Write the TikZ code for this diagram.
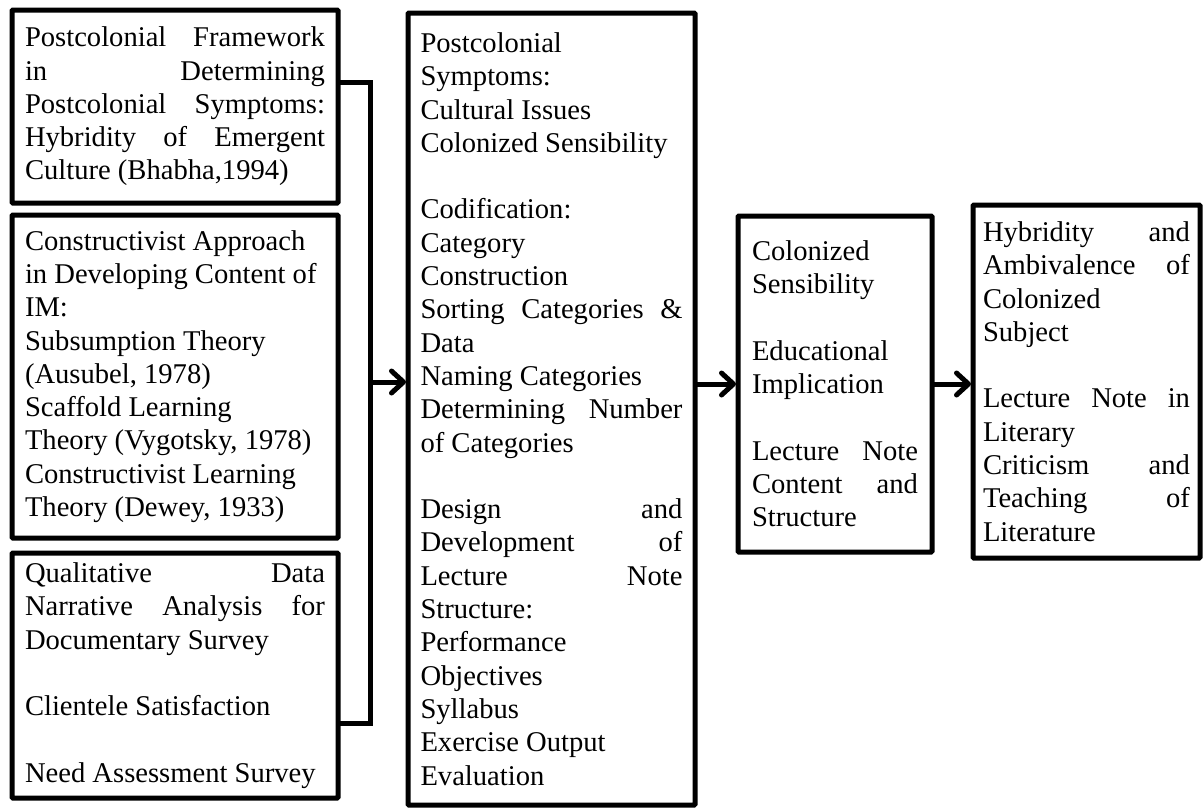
\documentclass[tikz,border=0pt]{standalone}
\usepackage{fontspec}
\setmainfont{Liberation Serif}
\usetikzlibrary{arrows.meta}
\hyphenpenalty=10000
\exhyphenpenalty=10000
\tolerance=10000
\hbadness=10000

\begin{document}
\begin{tikzpicture}[x=1pt,y=-1pt]
        \useasboundingbox (0,0) rectangle (1203,809);

        \begin{scope}[every node/.style={draw, line width=5pt, rounded corners=1pt,
            anchor=north west, outer sep=0pt, inner sep=0pt, align=justify,
            font=\fontsize{28.6}{33.3}\selectfont}]
          \node[minimum width=326pt, minimum height=193pt, text width=300pt] (frame) at (12,10)
            {Postcolonial Framework\linebreak in Determining\linebreak Postcolonial Symptoms:\linebreak
             Hybridity of Emergent\linebreak Culture (Bhabha,1994)};
          \node[minimum width=326pt, minimum height=323pt, text width=300pt] (theory) at (12,215)
            {Constructivist Approach\\ in Developing Content of\\ IM:\\ Subsumption Theory\\
             (Ausubel, 1978)\\ Scaffold Learning\\ Theory (Vygotsky, 1978)\\
             Constructivist Learning\\ Theory (Dewey, 1933)};
          \node[minimum width=326pt, minimum height=245pt, text width=300pt] (data) at (12,553)
            {Qualitative Data\linebreak Narrative Analysis for\linebreak Documentary Survey\\[\baselineskip]
             Clientele Satisfaction\\[\baselineskip] Need Assessment Survey};
          \node[minimum width=287pt, minimum height=792pt, text width=262pt] (codes) at (408,13)
            {Postcolonial\\ Symptoms:\\ Cultural Issues\\ Colonized Sensibility\\[\baselineskip]
             Codification:\\ Category\\ Construction\\ Sorting Categories \&\linebreak Data\\
             Naming Categories\\ Determining Number\linebreak of Categories\\[\baselineskip]
             Design and\linebreak Development of\linebreak Lecture Note\linebreak Structure:\\
             Performance\\ Objectives\\ Syllabus\\ Exercise Output\\ Evaluation};
          \node[minimum width=194pt, minimum height=336pt, text width=166pt] (sense) at (738,216)
            {Colonized\\ Sensibility\\[\baselineskip] Educational\\ Implication\\[\baselineskip]
             Lecture Note\linebreak Content and\linebreak Structure};
          \node[minimum width=227pt, minimum height=353pt, text width=207pt] (result) at (973,205)
            {Hybridity and\linebreak Ambivalence of\linebreak Colonized\\ Subject\\[\baselineskip]
             Lecture Note in\linebreak Literary\\ Criticism and\linebreak Teaching of\linebreak Literature};
        \end{scope}

        \coordinate (join) at (370,382);

        \begin{scope}[line width=5pt]
          \draw ([yshift=-72pt]frame.north east) -| (join) |- ([yshift=75pt]data.south east);

          \begin{scope}[every edge/.style={draw, shorten >=2pt,
              -{Straight Barb[length=12pt,width=22pt,round]}}]
            \path (join) edge (join -| codes.west);
            \path (codes.east |- sense.west) edge (sense.west);
            \path (sense.east) edge (sense.east -| result.west);
          \end{scope}
        \end{scope}

      \end{tikzpicture}
\end{document}
